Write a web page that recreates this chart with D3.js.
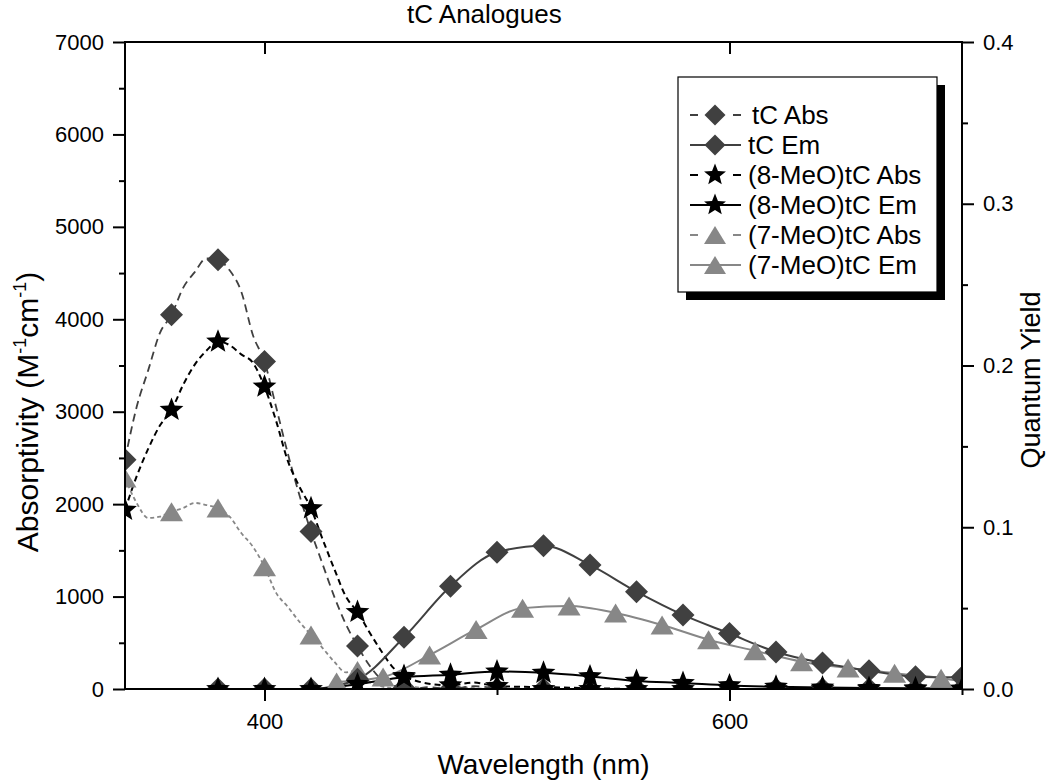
<!DOCTYPE html>
<html><head><meta charset="utf-8">
<script src="https://cdn.jsdelivr.net/npm/d3@7"></script>
<style>
body{margin:0;background:#fff}
text{font-family:"Liberation Sans",Arial,Helvetica,sans-serif;fill:#000}
</style>
</head><body>
<svg id="chart" width="1050" height="780"></svg>
<script>
// ---------------- DATA ----------------
// Absorption spectra (dense line readings, M^-1 cm^-1)
const absLineWl   = [340,345,350,355,360,365,370,375,380,385,390,395,400,405,410,415,420,425,430,435,440,445,450,455,460,465,470,480,490,500,520,540,560,580,600,620,640,660,680,700];
const tcAbsLine   = [2480,3050,3450,3850,4048,4340,4510,4660,4643,4530,4300,3830,3542,3050,2550,2100,1703,1350,1000,700,465,260,110,40,15,5,20,0,30,10,0,0,0,0,0,0,0,0,0,0];
const meo8AbsLine = [1937,2300,2600,2850,3019,3290,3510,3660,3758,3720,3620,3530,3271,2900,2470,2190,1955,1620,1300,1000,833,620,420,240,140,90,60,40,70,30,20,10,0,0,0,0,0,0,0,0];
const meo7AbsLine = [2283,2013,1850,1865,1919,1958,2013,1990,1958,1865,1688,1540,1323,1040,890,728,585,443,295,180,200,80,30,10,0,20,0,30,10,0,0,0,0,0,0,0,0,0,0,0];

// Absorption markers (every 20 nm)
const absMarkWl    = [340,360,380,400,420,440,460,480,500,520,540,560,580,600,620,640,660,680,700];
const tcAbsMark    = [2480,4048,4643,3542,1703,465,10,0,0,0,0,0,0,0,0,0,0,0,0];
const meo8AbsMark  = [1937,3019,3758,3271,1955,833,140,40,30,0,0,0,0,0,0,0,0,0,0];
const meo7AbsMark  = [2283,1919,1958,1323,585,200,0,0,0,0,0,0,0,0,0,0,0,0,0];

// Emission scaled to quantum yield
const emWl     = [380,400,420,440,460,480,500,520,540,560,580,600,620,640,660,680,700];
const tcEm     = [0,0,0,0.006,0.032,0.0635,0.0845,0.0886,0.0767,0.0602,0.0458,0.0343,0.0229,0.0161,0.0113,0.0076,0.0072];
const meo8Em   = [0,0,0,0.003,0.0072,0.0088,0.0108,0.0100,0.0078,0.0050,0.0037,0.0022,0.0014,0.0009,0.0006,0.0004,0.0003];
const meo7EmWl = [431,451,471,491,511,531,551,571,591,611,631,651,671,691];
const meo7Em   = [0.0043,0.0074,0.021,0.0368,0.0500,0.0513,0.0470,0.0396,0.0305,0.0236,0.0169,0.0130,0.0098,0.0067];
const meo7EmTailWl = [700];      // line continues past last marker
const meo7EmTail   = [0.0048];

const leftTicks  = [0,1000,2000,3000,4000,5000,6000,7000];
const leftMinor  = [500,1500,2500,3500,4500,5500,6500];
const rightTicks = [0,0.1,0.2,0.3,0.4];
const rightMinor = [0.05,0.15,0.25,0.35];
const xTicks     = [400,600];
const xMinor     = [500,700];

const legendLabels = ["tC Abs","tC Em","(8-MeO)tC Abs","(8-MeO)tC Em","(7-MeO)tC Abs","(7-MeO)tC Em"];

// ---------------- LAYOUT ----------------
const L = 125, R = 962, T = 42, B = 689;
const svg = d3.select("#chart");
const x  = d3.scaleLinear().domain([340,700]).range([L,R]);
const yL = d3.scaleLinear().domain([0,7000]).range([B,T]);
const yR = d3.scaleLinear().domain([0,0.4]).range([B,T]);

const C_TC = "#404040", C_8 = "#000000", C_7 = "#878787";

function diamond(r){return `M0,${-r}L${r},0L0,${r}L${-r},0Z`;}
function star(R0,r0){let p="";for(let i=0;i<10;i++){const rr=i%2?r0:R0;const a=-Math.PI/2+i*Math.PI/5;p+=(i?"L":"M")+(rr*Math.cos(a)).toFixed(2)+","+(rr*Math.sin(a)).toFixed(2);}return p+"Z";}
function tri(w,h){return `M0,${-h/2}L${w/2},${h/2}L${-w/2},${h/2}Z`;}
const MK = { d: diamond(11.5), s: star(12.5,5.4), t: tri(23,19) };

svg.append("defs").append("clipPath").attr("id","plot").append("rect")
  .attr("x",L).attr("y",T).attr("width",R-L).attr("height",B-T);
const plot = svg.append("g").attr("clip-path","url(#plot)");

function drawLine(xs, ys, yScale, color, dash, w){
  const pts = xs.map((v,i)=>[v,ys[i]]);
  plot.append("path").datum(pts)
    .attr("fill","none").attr("stroke",color).attr("stroke-width",w)
    .attr("stroke-dasharray",dash||null)
    .attr("d", d3.line().x(d=>x(d[0])).y(d=>yScale(d[1])).curve(d3.curveMonotoneX));
}
function drawMarks(xs, ys, yScale, shape, color){
  plot.append("g").selectAll("path").data(xs.map((v,i)=>[v,ys[i]])).join("path")
    .attr("d", MK[shape]).attr("fill",color)
    .attr("transform", d=>`translate(${x(d[0])},${yScale(d[1])})`);
}

drawLine(absLineWl, meo7AbsLine, yL, C_7, "4,3", 1.8);
drawLine(absLineWl, tcAbsLine, yL, C_TC, "8,5", 1.8);
drawLine(absLineWl, meo8AbsLine, yL, C_8, "6,4", 2);
drawLine(meo7EmWl.concat(meo7EmTailWl), meo7Em.concat(meo7EmTail), yR, C_7, null, 2);
drawLine(emWl, tcEm, yR, C_TC, null, 2);
drawLine(emWl, meo8Em, yR, C_8, null, 2);
drawMarks(absMarkWl, meo7AbsMark, yL, "t", C_7);
drawMarks(absMarkWl, tcAbsMark, yL, "d", C_TC);
drawMarks(absMarkWl, meo8AbsMark, yL, "s", C_8);
drawMarks(meo7EmWl, meo7Em, yR, "t", C_7);
drawMarks(emWl, tcEm, yR, "d", C_TC);
drawMarks(emWl, meo8Em, yR, "s", C_8);

// ---------------- AXES ----------------
function styleAxis(g){
  g.select(".domain").remove();
  g.selectAll(".tick line").attr("stroke","#000").attr("stroke-width",2);
  g.selectAll(".tick text").style("font-size","22px").attr("fill","#000");
}
const axL = svg.append("g").attr("transform",`translate(${L},0)`)
  .call(d3.axisLeft(yL).tickValues(leftTicks).tickSize(12).tickPadding(9).tickFormat(d3.format("d")));
styleAxis(axL);
const axLm = svg.append("g").attr("transform",`translate(${L},0)`)
  .call(d3.axisLeft(yL).tickValues(leftMinor).tickSize(6).tickFormat(""));
styleAxis(axLm);
const axR = svg.append("g").attr("transform",`translate(${R},0)`)
  .call(d3.axisRight(yR).tickValues(rightTicks).tickSize(12).tickPadding(9).tickFormat(d3.format(".1f")));
styleAxis(axR);
const axRm = svg.append("g").attr("transform",`translate(${R},0)`)
  .call(d3.axisRight(yR).tickValues(rightMinor).tickSize(6).tickFormat(""));
styleAxis(axRm);
const axB = svg.append("g").attr("transform",`translate(0,${B})`)
  .call(d3.axisBottom(x).tickValues(xTicks).tickSize(12).tickPadding(12).tickFormat(d3.format("d")));
styleAxis(axB);
const axBm = svg.append("g").attr("transform",`translate(0,${B})`)
  .call(d3.axisBottom(x).tickValues(xMinor).tickSize(6).tickFormat(""));
styleAxis(axBm);
const axT = svg.append("g").attr("transform",`translate(0,${T})`)
  .call(d3.axisBottom(x).tickValues(xTicks).tickSize(12).tickFormat(""));
styleAxis(axT);

const fr = svg.append("g").attr("stroke","#000").attr("stroke-width",2);
fr.append("line").attr("x1",L).attr("x2",L).attr("y1",T-1).attr("y2",B+1);
fr.append("line").attr("x1",R).attr("x2",R).attr("y1",T-1).attr("y2",B+1);
fr.append("line").attr("x1",L).attr("x2",R).attr("y1",T).attr("y2",T);
fr.append("line").attr("x1",L).attr("x2",R).attr("y1",B).attr("y2",B);

// ---------------- TEXT ----------------
svg.append("text").attr("x",407).attr("y",23).attr("text-anchor","start")
  .style("font-size","26px").text("tC Analogues");
svg.append("text").attr("x",(L+R)/2).attr("y",774).attr("text-anchor","middle")
  .style("font-size","28px").text("Wavelength (nm)");
const yl = svg.append("text").attr("transform","translate(38,412) rotate(-90)")
  .attr("text-anchor","middle").style("font-size","30px");
yl.append("tspan").text("Absorptivity (M");
yl.append("tspan").attr("dy",-12).style("font-size","18px").text("-1");
yl.append("tspan").attr("dy",12).text("cm");
yl.append("tspan").attr("dy",-12).style("font-size","18px").text("-1");
yl.append("tspan").attr("dy",12).text(")");
svg.append("text").attr("transform","translate(1040,380) rotate(-90)")
  .attr("text-anchor","middle").style("font-size","27px").text("Quantum Yield");

// ---------------- LEGEND ----------------
const lx = 678, ly = 77, lw = 259, lh = 215;
svg.append("rect").attr("x",lx+8).attr("y",ly+8).attr("width",lw).attr("height",lh).attr("fill","#000");
svg.append("rect").attr("x",lx).attr("y",ly).attr("width",lw).attr("height",lh)
  .attr("fill","#fff").attr("stroke","#000").attr("stroke-width",1.2);
const legItems = [
  {c:C_TC, dash:true, m:"d", w:1.8},
  {c:C_TC, dash:false, m:"d", w:2},
  {c:C_8, dash:true, m:"s", w:2},
  {c:C_8, dash:false, m:"s", w:2},
  {c:C_7, dash:true, m:"t", w:1.8},
  {c:C_7, dash:false, m:"t", w:2}
];
legItems.forEach((it,i)=>{
  const cy = 115 + i*30;
  const g = svg.append("g");
  g.append("line").attr("x1",690).attr("x2",741).attr("y1",cy).attr("y2",cy)
    .attr("stroke",it.c).attr("stroke-width",it.w).attr("stroke-dasharray",it.dash?"8,35,8":null);
  const mk = it.m==="d"?diamond(10.5):it.m==="s"?star(11.5,5):tri(22,18);
  g.append("path").attr("d",mk).attr("fill",it.c).attr("transform",`translate(715,${cy})`);
  g.append("text").attr("x", i===0?752:748).attr("y",cy+9).style("font-size","26px").text(legendLabels[i]);
});
</script>
</body></html>
